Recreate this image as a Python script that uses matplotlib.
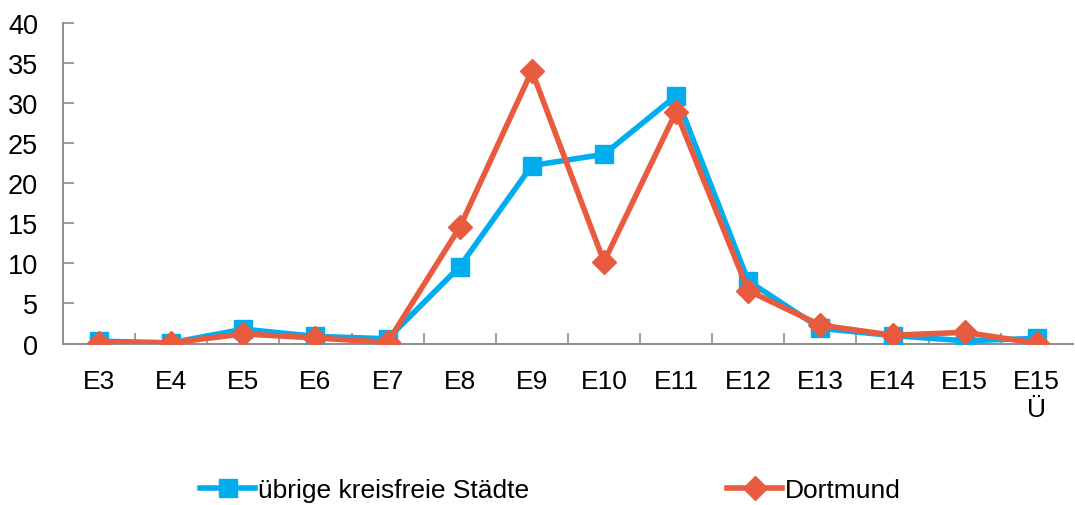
import numpy as np
import matplotlib.pyplot as plt
from matplotlib.ticker import FixedLocator

plt.rcParams['font.family'] = ['Liberation Sans', 'DejaVu Sans']

categories = ["E3", "E4", "E5", "E6", "E7", "E8", "E9", "E10", "E11",
              "E12", "E13", "E14", "E15", "E15\nÜ"]
staedte = [0.3, 0.1, 1.8, 0.9, 0.6, 9.6, 22.2, 23.6, 30.9,
           7.8, 1.9, 1.0, 0.35, 0.65]
dortmund = [0.1, 0.1, 1.2, 0.7, 0.15, 14.5, 34.0, 10.2, 28.9,
            6.6, 2.3, 1.05, 1.4, 0.05]

blue = "#00ADEE"
red = "#E85B3F"
grey = "#8C8C8C"

fig = plt.figure(figsize=(10.75, 5.06), dpi=100)
ax = fig.add_axes([0.0586, 0.319, 0.9394, 0.634])

x = np.arange(len(categories))
ax.plot(x, staedte, color=blue, lw=4, marker="s", markersize=13,
        label="übrige kreisfreie Städte", zorder=3)
ax.plot(x, dortmund, color=red, lw=4, marker="D", markersize=12,
        label="Dortmund", zorder=4)

ax.set_xlim(-0.5, len(categories) - 0.5)
ax.set_ylim(0, 40)
ax.set_yticks(np.arange(0, 41, 5))
ax.set_xticks(x)
ax.set_xticklabels(categories, fontsize=19, linespacing=1.25)
ax.xaxis.set_minor_locator(FixedLocator(np.arange(0.5, len(categories) - 1, 1)))
ax.tick_params(axis="x", which="major", length=0, pad=18)
ax.tick_params(axis="x", which="minor", direction="in", length=8,
               color=grey, width=1.2)
ax.tick_params(axis="y", direction="in", length=8, color=grey, width=1.2,
               labelsize=19.5, pad=18)
for lbl in ax.get_yticklabels():
    lbl.set_horizontalalignment("right")

for side in ["top", "right"]:
    ax.spines[side].set_visible(False)
for side in ["left", "bottom"]:
    ax.spines[side].set_color(grey)
    ax.spines[side].set_linewidth(1.4)

fig.legend(loc="center", bbox_to_anchor=(0.512, 0.03), ncol=2, frameon=False,
           fontsize=19, handlelength=2.1, handletextpad=0.1,
           columnspacing=7.5)

fig.savefig("out.png", dpi=100)
